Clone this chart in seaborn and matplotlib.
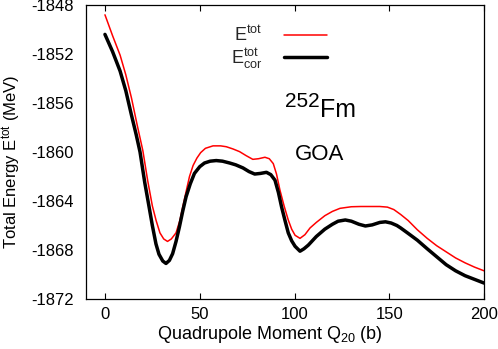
import matplotlib
matplotlib.use("Agg")
import matplotlib.pyplot as plt
import seaborn as sns
import pandas as pd

# Quadrupole moment Q20 (b) and total energy E^tot (MeV)
q_tot = [0, 4, 8, 11, 14, 17, 20, 22.5, 25, 27, 29, 31, 33, 35, 37.5, 39.5, 41, 43,
         44.6, 46.5, 48.5, 50.5, 53, 57, 61, 64, 67.5, 71, 74.5, 78, 81, 84.4, 86.7,
         88.8, 90.5, 92.3, 94.5, 96.7, 98.5, 100.3, 102.9, 105.5, 108.2, 111.5, 116,
         120, 124, 130, 135, 140, 145, 149, 152.4, 156, 160, 164.8, 170, 175, 180,
         185, 190, 195, 200]
e_tot = [-1848.8, -1850.5, -1852.1, -1853.7, -1855.6, -1857.8, -1859.9, -1862.3,
         -1864.4, -1865.6, -1866.6, -1867.1, -1867.3, -1867.1, -1866.6, -1865.6,
         -1864.5, -1863.1, -1862.0, -1861.1, -1860.5, -1860.05, -1859.7, -1859.5,
         -1859.5, -1859.57, -1859.75, -1859.97, -1860.3, -1860.6, -1860.55, -1860.43,
         -1860.55, -1860.95, -1861.8, -1863.1, -1864.4, -1865.55, -1866.3, -1866.8,
         -1867.05, -1866.75, -1866.2, -1865.75, -1865.2, -1864.85, -1864.6, -1864.47,
         -1864.45, -1864.45, -1864.45, -1864.5, -1864.7, -1865.1, -1865.6, -1866.35,
         -1867.05, -1867.65, -1868.15, -1868.65, -1869.05, -1869.4, -1869.7]

# Quadrupole moment Q20 (b) and corrected energy E^tot_cor (MeV)
q_cor = [0, 4, 8, 11, 14, 16.5, 18.5, 21, 23.3, 25, 26.9, 28.5, 30.5, 32.2, 34, 35.7,
         37.5, 39.3, 41, 42.8, 45, 47.2, 50, 52.5, 55.5, 58.7, 62, 65.8, 69, 72.8, 76,
         79, 82, 85.2, 87.5, 89.7, 91.5, 93.2, 95, 96.7, 98.5, 100.3, 102.9, 105,
         107.3, 111.5, 116, 120, 123, 126.8, 130, 134, 137.4, 141, 145, 148, 151, 154,
         156, 160, 164.8, 170, 175, 180, 185, 190, 195, 200]
e_cor = [-1850.4, -1851.8, -1853.4, -1855.0, -1857.0, -1858.6, -1860.0, -1862.5,
         -1864.5, -1866.0, -1867.5, -1868.35, -1868.9, -1869.1, -1868.85, -1868.3,
         -1867.3, -1866.1, -1864.85, -1863.65, -1862.6, -1861.75, -1861.2, -1860.9,
         -1860.75, -1860.7, -1860.75, -1860.9, -1861.05, -1861.3, -1861.6, -1861.8,
         -1861.75, -1861.66, -1861.85, -1862.3, -1863.3, -1864.5, -1865.6, -1866.6,
         -1867.25, -1867.7, -1868.1, -1867.9, -1867.6, -1866.9, -1866.3, -1865.9,
         -1865.65, -1865.55, -1865.65, -1865.9, -1866.04, -1865.95, -1865.75,
         -1865.7, -1865.8, -1866.0, -1866.2, -1866.65, -1867.2, -1867.9, -1868.55,
         -1869.2, -1869.7, -1870.1, -1870.4, -1870.7]

x_ticks = [0, 50, 100, 150, 200]
y_ticks = [-1872, -1868, -1864, -1860, -1856, -1852, -1848]

sns.set_theme(style="white")
plt.rcParams['font.family'] = ['Liberation Sans', 'DejaVu Sans']
plt.rcParams['mathtext.fontset'] = 'custom'
plt.rcParams['mathtext.rm'] = 'Liberation Sans'
plt.rcParams['mathtext.it'] = 'Liberation Sans'

df_tot = pd.DataFrame({"Q": q_tot, "E": e_tot})
df_cor = pd.DataFrame({"Q": q_cor, "E": e_cor})

fig = plt.figure(figsize=(4.98, 3.49), dpi=100)
ax = fig.add_axes([0.1727, 0.1433, 0.7993, 0.8424])

sns.lineplot(data=df_tot, x="Q", y="E", ax=ax, color="#ff0000", linewidth=1.1,
             label=r"E$^{\rm tot}$", solid_joinstyle='round')
sns.lineplot(data=df_cor, x="Q", y="E", ax=ax, color="black", linewidth=2.5,
             label=r"E$^{\rm tot}_{\rm cor}$", solid_joinstyle='round')

ax.set_xlim(-10, 200)
ax.set_ylim(-1872, -1848)
ax.set_xticks(x_ticks)
ax.set_yticks(y_ticks)
ax.set_xticklabels([str(t) for t in x_ticks])
ax.set_yticklabels([str(t) for t in y_ticks])
ax.tick_params(axis='x', direction='in', top=True, bottom=True, length=4,
               width=0.8, color='black', labelsize=12, pad=6, labelcolor='black')
ax.tick_params(axis='y', length=0, labelsize=12, pad=9, labelcolor='black')
for s in ax.spines.values():
    s.set_visible(True)
    s.set_color('black')
    s.set_linewidth(0.9)

ax.set_xlabel(r"Quadrupole Moment Q$_{20}$ (b)", fontsize=13, color='black')
ax.set_ylabel(r"Total Energy E$^{\rm tot}$ (MeV)", fontsize=12, color='black')
ax.xaxis.set_label_coords(0.462, -0.085)
ax.yaxis.set_label_coords(-0.158, 0.466)

leg = ax.legend(loc='upper left', bbox_to_anchor=(0.345, 0.955), frameon=False,
                markerfirst=False, fontsize=13, handlelength=2.4, handletextpad=1.2,
                labelspacing=0.05, borderaxespad=0)

ax.text(0.5, 0.653, "252", transform=ax.transAxes, fontsize=15,
        ha='left', va='baseline', color='black')
ax.text(0.588, 0.619, "Fm", transform=ax.transAxes, fontsize=18,
        ha='left', va='baseline', color='black')
ax.text(0.525, 0.473, "GOA", transform=ax.transAxes, fontsize=16,
        ha='left', va='baseline', color='black')

fig.savefig("out.png", dpi=100)
